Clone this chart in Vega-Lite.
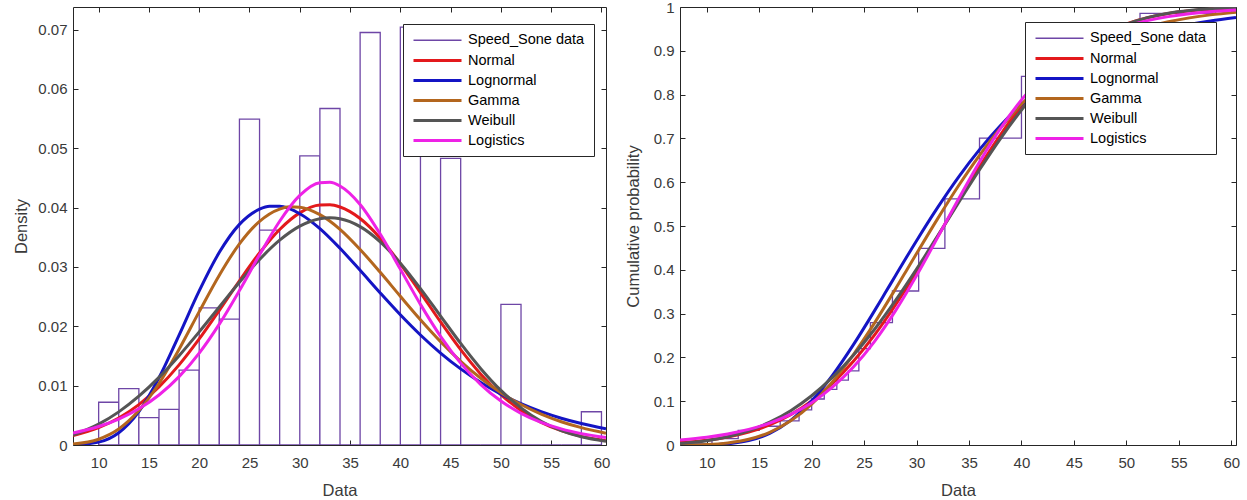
{
  "$schema": "https://vega.github.io/schema/vega-lite/v6.json",
  "padding": {"left": 13, "top": 0, "right": 2, "bottom": 0},
  "background": "white",
  "spacing": 15,
  "config": {
    "font": "Liberation Sans",
    "view": {"stroke": null},
    "axis": {
      "labelFont": "Liberation Sans", "labelFontSize": 15, "labelColor": "#3a3a3a",
      "titleFont": "Liberation Sans", "titleFontSize": 16.5, "titleFontWeight": "normal", "titleColor": "#3a3a3a",
      "domainColor": "#262626", "tickColor": "#262626", "tickSize": -5, "grid": false, "format": "~g"
    },
    "axisBottom": {"labelPadding": 15, "titlePadding": 12},
    "axisLeft": {"labelPadding": 11, "titlePadding": 8},
    "legend": {
      "orient": "none", "title": null, "labelFont": "Liberation Sans", "labelFontSize": 14.5, "labelColor": "#000000",
      "symbolType": "M-4,0H4", "symbolSize": 144, "symbolOffset": 18, "strokeColor": "#262626", "fillColor": "#ffffff",
      "padding": 9, "rowPadding": 5, "labelOffset": 23, "labelLimit": 300
    }
  },
  "resolve": {"scale": {"stroke": "independent", "strokeWidth": "independent"}},
  "datasets": {
    "hist": [
      {"b0": 10, "b1": 12, "density": 0.0072, "s": "Speed_Sone data"},
      {"b0": 12, "b1": 14, "density": 0.0095, "s": "Speed_Sone data"},
      {"b0": 14, "b1": 16, "density": 0.0046, "s": "Speed_Sone data"},
      {"b0": 16, "b1": 18, "density": 0.006, "s": "Speed_Sone data"},
      {"b0": 18, "b1": 20, "density": 0.0126, "s": "Speed_Sone data"},
      {"b0": 20, "b1": 22, "density": 0.0231, "s": "Speed_Sone data"},
      {"b0": 22, "b1": 24, "density": 0.0212, "s": "Speed_Sone data"},
      {"b0": 24, "b1": 26, "density": 0.0549, "s": "Speed_Sone data"},
      {"b0": 26, "b1": 28, "density": 0.0362, "s": "Speed_Sone data"},
      {"b0": 28, "b1": 30, "density": 0, "s": "Speed_Sone data"},
      {"b0": 30, "b1": 32, "density": 0.0487, "s": "Speed_Sone data"},
      {"b0": 32, "b1": 34, "density": 0.0567, "s": "Speed_Sone data"},
      {"b0": 34, "b1": 36, "density": 0, "s": "Speed_Sone data"},
      {"b0": 36, "b1": 38, "density": 0.0695, "s": "Speed_Sone data"},
      {"b0": 38, "b1": 40, "density": 0, "s": "Speed_Sone data"},
      {"b0": 40, "b1": 42, "density": 0.0704, "s": "Speed_Sone data"},
      {"b0": 42, "b1": 44, "density": 0, "s": "Speed_Sone data"},
      {"b0": 44, "b1": 46, "density": 0.0483, "s": "Speed_Sone data"},
      {"b0": 46, "b1": 48, "density": 0, "s": "Speed_Sone data"},
      {"b0": 48, "b1": 50, "density": 0, "s": "Speed_Sone data"},
      {"b0": 50, "b1": 52, "density": 0.0237, "s": "Speed_Sone data"},
      {"b0": 52, "b1": 54, "density": 0, "s": "Speed_Sone data"},
      {"b0": 54, "b1": 56, "density": 0, "s": "Speed_Sone data"},
      {"b0": 56, "b1": 58, "density": 0, "s": "Speed_Sone data"},
      {"b0": 58, "b1": 60, "density": 0.0056, "s": "Speed_Sone data"}
    ],
    "ecdf": [
      {"x": 7.45, "p": 0, "s": "Speed_Sone data"},
      {"x": 10.5, "p": 0.0144, "s": "Speed_Sone data"},
      {"x": 13, "p": 0.0334, "s": "Speed_Sone data"},
      {"x": 15, "p": 0.0428, "s": "Speed_Sone data"},
      {"x": 17, "p": 0.055, "s": "Speed_Sone data"},
      {"x": 18.8, "p": 0.0804, "s": "Speed_Sone data"},
      {"x": 20, "p": 0.105, "s": "Speed_Sone data"},
      {"x": 21.2, "p": 0.1268, "s": "Speed_Sone data"},
      {"x": 22.4, "p": 0.148, "s": "Speed_Sone data"},
      {"x": 23.5, "p": 0.1694, "s": "Speed_Sone data"},
      {"x": 24.5, "p": 0.22, "s": "Speed_Sone data"},
      {"x": 25.6, "p": 0.2792, "s": "Speed_Sone data"},
      {"x": 27.7, "p": 0.3516, "s": "Speed_Sone data"},
      {"x": 30.2, "p": 0.4488, "s": "Speed_Sone data"},
      {"x": 32.7, "p": 0.562, "s": "Speed_Sone data"},
      {"x": 36, "p": 0.7008, "s": "Speed_Sone data"},
      {"x": 40, "p": 0.8414, "s": "Speed_Sone data"},
      {"x": 44.5, "p": 0.938, "s": "Speed_Sone data"},
      {"x": 51.3, "p": 0.9854, "s": "Speed_Sone data"},
      {"x": 58.5, "p": 1, "s": "Speed_Sone data"},
      {"x": 60.45, "p": 1, "s": "Speed_Sone data"}
    ],
    "fit": [
      {"x": 7.45, "s": "Normal", "pdf": 0.001576, "cdf": 0.0055},
      {"x": 10, "s": "Normal", "pdf": 0.002914, "cdf": 0.0109},
      {"x": 12, "s": "Normal", "pdf": 0.004548, "cdf": 0.0183},
      {"x": 14, "s": "Normal", "pdf": 0.00681, "cdf": 0.0295},
      {"x": 16, "s": "Normal", "pdf": 0.009788, "cdf": 0.0461},
      {"x": 18, "s": "Normal", "pdf": 0.0135, "cdf": 0.0693},
      {"x": 20, "s": "Normal", "pdf": 0.017874, "cdf": 0.1006},
      {"x": 22, "s": "Normal", "pdf": 0.0227, "cdf": 0.1411},
      {"x": 24, "s": "Normal", "pdf": 0.027667, "cdf": 0.1916},
      {"x": 26, "s": "Normal", "pdf": 0.032358, "cdf": 0.2514},
      {"x": 28, "s": "Normal", "pdf": 0.036318, "cdf": 0.3203},
      {"x": 30, "s": "Normal", "pdf": 0.039115, "cdf": 0.3959},
      {"x": 32, "s": "Normal", "pdf": 0.040427, "cdf": 0.4757},
      {"x": 33, "s": "Normal", "pdf": 0.040468, "cdf": 0.5162},
      {"x": 34, "s": "Normal", "pdf": 0.040094, "cdf": 0.5565},
      {"x": 36, "s": "Normal", "pdf": 0.03816, "cdf": 0.635},
      {"x": 38, "s": "Normal", "pdf": 0.034851, "cdf": 0.7082},
      {"x": 40, "s": "Normal", "pdf": 0.030541, "cdf": 0.7738},
      {"x": 42, "s": "Normal", "pdf": 0.025687, "cdf": 0.83},
      {"x": 44, "s": "Normal", "pdf": 0.020729, "cdf": 0.8765},
      {"x": 46, "s": "Normal", "pdf": 0.016056, "cdf": 0.9131},
      {"x": 48, "s": "Normal", "pdf": 0.01193, "cdf": 0.941},
      {"x": 50, "s": "Normal", "pdf": 0.008507, "cdf": 0.9613},
      {"x": 52, "s": "Normal", "pdf": 0.005823, "cdf": 0.9755},
      {"x": 54, "s": "Normal", "pdf": 0.003824, "cdf": 0.9851},
      {"x": 56, "s": "Normal", "pdf": 0.00241, "cdf": 0.9912},
      {"x": 58, "s": "Normal", "pdf": 0.001457, "cdf": 0.995},
      {"x": 60.45, "s": "Normal", "pdf": 0.000733, "cdf": 0.9977},
      {"x": 7.45, "s": "Lognormal", "pdf": 0.000027, "cdf": 0.00002},
      {"x": 10, "s": "Lognormal", "pdf": 0.000482, "cdf": 0.00046},
      {"x": 12, "s": "Lognormal", "pdf": 0.002057, "cdf": 0.00273},
      {"x": 14, "s": "Lognormal", "pdf": 0.00561, "cdf": 0.01002},
      {"x": 16, "s": "Lognormal", "pdf": 0.011326, "cdf": 0.0266},
      {"x": 18, "s": "Lognormal", "pdf": 0.018518, "cdf": 0.0563},
      {"x": 20, "s": "Lognormal", "pdf": 0.025965, "cdf": 0.1008},
      {"x": 22, "s": "Lognormal", "pdf": 0.032463, "cdf": 0.1595},
      {"x": 24, "s": "Lognormal", "pdf": 0.03717, "cdf": 0.2296},
      {"x": 26, "s": "Lognormal", "pdf": 0.039726, "cdf": 0.3068},
      {"x": 27, "s": "Lognormal", "pdf": 0.040211, "cdf": 0.3468},
      {"x": 28, "s": "Lognormal", "pdf": 0.040214, "cdf": 0.387},
      {"x": 30, "s": "Lognormal", "pdf": 0.038974, "cdf": 0.4665},
      {"x": 32, "s": "Lognormal", "pdf": 0.036463, "cdf": 0.542},
      {"x": 34, "s": "Lognormal", "pdf": 0.033145, "cdf": 0.6118},
      {"x": 36, "s": "Lognormal", "pdf": 0.029427, "cdf": 0.6744},
      {"x": 38, "s": "Lognormal", "pdf": 0.025617, "cdf": 0.7295},
      {"x": 40, "s": "Lognormal", "pdf": 0.02194, "cdf": 0.777},
      {"x": 42, "s": "Lognormal", "pdf": 0.01854, "cdf": 0.8174},
      {"x": 44, "s": "Lognormal", "pdf": 0.01549, "cdf": 0.8514},
      {"x": 46, "s": "Lognormal", "pdf": 0.012821, "cdf": 0.8796},
      {"x": 48, "s": "Lognormal", "pdf": 0.010525, "cdf": 0.9029},
      {"x": 50, "s": "Lognormal", "pdf": 0.008585, "cdf": 0.9219},
      {"x": 52, "s": "Lognormal", "pdf": 0.006963, "cdf": 0.9374},
      {"x": 54, "s": "Lognormal", "pdf": 0.005619, "cdf": 0.95},
      {"x": 56, "s": "Lognormal", "pdf": 0.004517, "cdf": 0.9601},
      {"x": 58, "s": "Lognormal", "pdf": 0.003623, "cdf": 0.9682},
      {"x": 60.45, "s": "Lognormal", "pdf": 0.002738, "cdf": 0.9761},
      {"x": 7.45, "s": "Gamma", "pdf": 0.00016, "cdf": 0.00015},
      {"x": 10, "s": "Gamma", "pdf": 0.000974, "cdf": 0.00135},
      {"x": 12, "s": "Gamma", "pdf": 0.00269, "cdf": 0.0048},
      {"x": 14, "s": "Gamma", "pdf": 0.005795, "cdf": 0.0131},
      {"x": 16, "s": "Gamma", "pdf": 0.010367, "cdf": 0.029},
      {"x": 18, "s": "Gamma", "pdf": 0.016135, "cdf": 0.0552},
      {"x": 20, "s": "Gamma", "pdf": 0.022468, "cdf": 0.0935},
      {"x": 22, "s": "Gamma", "pdf": 0.02862, "cdf": 0.1445},
      {"x": 24, "s": "Gamma", "pdf": 0.033897, "cdf": 0.2072},
      {"x": 26, "s": "Gamma", "pdf": 0.037686, "cdf": 0.2789},
      {"x": 28, "s": "Gamma", "pdf": 0.039757, "cdf": 0.3568},
      {"x": 29, "s": "Gamma", "pdf": 0.040128, "cdf": 0.3968},
      {"x": 30, "s": "Gamma", "pdf": 0.040076, "cdf": 0.437},
      {"x": 32, "s": "Gamma", "pdf": 0.03881, "cdf": 0.5163},
      {"x": 34, "s": "Gamma", "pdf": 0.036343, "cdf": 0.5918},
      {"x": 36, "s": "Gamma", "pdf": 0.032951, "cdf": 0.6614},
      {"x": 38, "s": "Gamma", "pdf": 0.02909, "cdf": 0.7236},
      {"x": 40, "s": "Gamma", "pdf": 0.025058, "cdf": 0.7778},
      {"x": 42, "s": "Gamma", "pdf": 0.021101, "cdf": 0.8239},
      {"x": 44, "s": "Gamma", "pdf": 0.017414, "cdf": 0.8622},
      {"x": 46, "s": "Gamma", "pdf": 0.014104, "cdf": 0.8937},
      {"x": 48, "s": "Gamma", "pdf": 0.011239, "cdf": 0.9188},
      {"x": 50, "s": "Gamma", "pdf": 0.008815, "cdf": 0.9388},
      {"x": 52, "s": "Gamma", "pdf": 0.006816, "cdf": 0.9543},
      {"x": 54, "s": "Gamma", "pdf": 0.005204, "cdf": 0.9662},
      {"x": 56, "s": "Gamma", "pdf": 0.003925, "cdf": 0.9752},
      {"x": 58, "s": "Gamma", "pdf": 0.002923, "cdf": 0.982},
      {"x": 60.45, "s": "Gamma", "pdf": 0.001995, "cdf": 0.988},
      {"x": 7.45, "s": "Weibull", "pdf": 0.00167, "cdf": 0.0035},
      {"x": 10, "s": "Weibull", "pdf": 0.003507, "cdf": 0.0098},
      {"x": 12, "s": "Weibull", "pdf": 0.005582, "cdf": 0.0188},
      {"x": 14, "s": "Weibull", "pdf": 0.008219, "cdf": 0.0325},
      {"x": 16, "s": "Weibull", "pdf": 0.011397, "cdf": 0.052},
      {"x": 18, "s": "Weibull", "pdf": 0.015052, "cdf": 0.0784},
      {"x": 20, "s": "Weibull", "pdf": 0.019056, "cdf": 0.1124},
      {"x": 22, "s": "Weibull", "pdf": 0.023256, "cdf": 0.1548},
      {"x": 24, "s": "Weibull", "pdf": 0.027414, "cdf": 0.2055},
      {"x": 26, "s": "Weibull", "pdf": 0.031257, "cdf": 0.2642},
      {"x": 28, "s": "Weibull", "pdf": 0.034506, "cdf": 0.3301},
      {"x": 30, "s": "Weibull", "pdf": 0.036876, "cdf": 0.4016},
      {"x": 32, "s": "Weibull", "pdf": 0.03813, "cdf": 0.4768},
      {"x": 33, "s": "Weibull", "pdf": 0.038288, "cdf": 0.5151},
      {"x": 34, "s": "Weibull", "pdf": 0.038116, "cdf": 0.5534},
      {"x": 36, "s": "Weibull", "pdf": 0.036788, "cdf": 0.6284},
      {"x": 38, "s": "Weibull", "pdf": 0.034225, "cdf": 0.6997},
      {"x": 40, "s": "Weibull", "pdf": 0.03064, "cdf": 0.7647},
      {"x": 42, "s": "Weibull", "pdf": 0.026355, "cdf": 0.8217},
      {"x": 44, "s": "Weibull", "pdf": 0.021716, "cdf": 0.8698},
      {"x": 46, "s": "Weibull", "pdf": 0.017113, "cdf": 0.9086},
      {"x": 48, "s": "Weibull", "pdf": 0.012864, "cdf": 0.9385},
      {"x": 50, "s": "Weibull", "pdf": 0.009198, "cdf": 0.9605},
      {"x": 52, "s": "Weibull", "pdf": 0.006246, "cdf": 0.9757},
      {"x": 54, "s": "Weibull", "pdf": 0.004007, "cdf": 0.9859},
      {"x": 56, "s": "Weibull", "pdf": 0.002423, "cdf": 0.9922},
      {"x": 58, "s": "Weibull", "pdf": 0.001382, "cdf": 0.996},
      {"x": 60.45, "s": "Weibull", "pdf": 0.000625, "cdf": 0.9984},
      {"x": 7.45, "s": "Logistics", "pdf": 0.002022, "cdf": 0.0115},
      {"x": 10, "s": "Logistics", "pdf": 0.003111, "cdf": 0.0179},
      {"x": 12, "s": "Logistics", "pdf": 0.004367, "cdf": 0.0253},
      {"x": 14, "s": "Logistics", "pdf": 0.006095, "cdf": 0.0356},
      {"x": 16, "s": "Logistics", "pdf": 0.00843, "cdf": 0.0501},
      {"x": 18, "s": "Logistics", "pdf": 0.011522, "cdf": 0.0699},
      {"x": 20, "s": "Logistics", "pdf": 0.015493, "cdf": 0.0967},
      {"x": 22, "s": "Logistics", "pdf": 0.020373, "cdf": 0.1325},
      {"x": 24, "s": "Logistics", "pdf": 0.026027, "cdf": 0.1787},
      {"x": 26, "s": "Logistics", "pdf": 0.032045, "cdf": 0.2368},
      {"x": 28, "s": "Logistics", "pdf": 0.037701, "cdf": 0.3067},
      {"x": 30, "s": "Logistics", "pdf": 0.042052, "cdf": 0.3867},
      {"x": 32, "s": "Logistics", "pdf": 0.044201, "cdf": 0.4734},
      {"x": 33, "s": "Logistics", "pdf": 0.04427, "cdf": 0.5177},
      {"x": 34, "s": "Logistics", "pdf": 0.04365, "cdf": 0.5617},
      {"x": 36, "s": "Logistics", "pdf": 0.040532, "cdf": 0.6463},
      {"x": 38, "s": "Logistics", "pdf": 0.035541, "cdf": 0.7226},
      {"x": 40, "s": "Logistics", "pdf": 0.029634, "cdf": 0.7879},
      {"x": 42, "s": "Logistics", "pdf": 0.023696, "cdf": 0.8411},
      {"x": 44, "s": "Logistics", "pdf": 0.018315, "cdf": 0.883},
      {"x": 46, "s": "Logistics", "pdf": 0.013794, "cdf": 0.915},
      {"x": 48, "s": "Logistics", "pdf": 0.010186, "cdf": 0.9388},
      {"x": 50, "s": "Logistics", "pdf": 0.007413, "cdf": 0.9563},
      {"x": 52, "s": "Logistics", "pdf": 0.005338, "cdf": 0.9689},
      {"x": 54, "s": "Logistics", "pdf": 0.003815, "cdf": 0.978},
      {"x": 56, "s": "Logistics", "pdf": 0.002711, "cdf": 0.9845},
      {"x": 58, "s": "Logistics", "pdf": 0.00192, "cdf": 0.9891},
      {"x": 60.45, "s": "Logistics", "pdf": 0.001243, "cdf": 0.9929}
    ]
  },
  "hconcat": [
    {
      "width": 533,
      "height": 438,
      "resolve": {"axis": {"x": "independent", "y": "independent"}},
      "layer": [
        {
          "data": {"name": "hist"},
          "mark": {"type": "rect", "fill": "white", "clip": true},
          "encoding": {
            "x": {"field": "b0", "type": "quantitative", "scale": {"domain": [7.45, 60.45], "nice": false, "zero": false},
                  "axis": {"orient": "bottom", "values": [10, 15, 20, 25, 30, 35, 40, 45, 50, 55, 60], "title": "Data"}},
            "x2": {"field": "b1"},
            "y": {"field": "density", "type": "quantitative", "scale": {"domain": [0, 0.0738], "nice": false},
                  "axis": {"orient": "left", "values": [0, 0.01, 0.02, 0.03, 0.04, 0.05, 0.06, 0.07], "title": "Density"}},
            "y2": {"datum": 0},
            "stroke": {"field": "s", "type": "nominal",
                       "scale": {"domain": ["Speed_Sone data", "Normal", "Lognormal", "Gamma", "Weibull", "Logistics"],
                                 "range": ["#6E46A6", "#E3191C", "#1414C4", "#B3661E", "#555555", "#EE22E6"]},
                       "legend": {"legendX": 330, "legendY": 17}},
            "strokeWidth": {"field": "s", "type": "nominal",
                            "scale": {"type": "ordinal", "domain": ["Speed_Sone data", "Normal", "Lognormal", "Gamma", "Weibull", "Logistics"],
                                      "range": [1.3, 3, 3, 3, 3, 3]},
                            "legend": {"legendX": 330, "legendY": 17}}
          }
        },
        {
          "data": {"name": "fit"},
          "mark": {"type": "line", "interpolate": "monotone", "clip": true},
          "encoding": {
            "x": {"field": "x", "type": "quantitative", "scale": {"domain": [7.45, 60.45], "nice": false, "zero": false},
                  "axis": {"orient": "top", "labels": false, "title": null, "values": [10, 15, 20, 25, 30, 35, 40, 45, 50, 55, 60]}},
            "y": {"field": "pdf", "type": "quantitative", "scale": {"domain": [0, 0.0738], "nice": false},
                  "axis": {"orient": "right", "labels": false, "title": null, "values": [0, 0.01, 0.02, 0.03, 0.04, 0.05, 0.06, 0.07]}},
            "stroke": {"field": "s", "type": "nominal",
                       "scale": {"domain": ["Speed_Sone data", "Normal", "Lognormal", "Gamma", "Weibull", "Logistics"],
                                 "range": ["#6E46A6", "#E3191C", "#1414C4", "#B3661E", "#555555", "#EE22E6"]},
                       "legend": {"legendX": 330, "legendY": 17}},
            "strokeWidth": {"field": "s", "type": "nominal",
                            "scale": {"type": "ordinal", "domain": ["Speed_Sone data", "Normal", "Lognormal", "Gamma", "Weibull", "Logistics"],
                                      "range": [1.3, 3, 3, 3, 3, 3]},
                            "legend": {"legendX": 330, "legendY": 17}}
          }
        }
      ]
    },
    {
      "width": 556,
      "height": 438,
      "resolve": {"axis": {"x": "independent", "y": "independent"}},
      "layer": [
        {
          "data": {"name": "ecdf"},
          "mark": {"type": "line", "interpolate": "step-after", "clip": true},
          "encoding": {
            "x": {"field": "x", "type": "quantitative", "scale": {"domain": [7.45, 60.45], "nice": false, "zero": false},
                  "axis": {"orient": "bottom", "values": [10, 15, 20, 25, 30, 35, 40, 45, 50, 55, 60], "title": "Data"}},
            "y": {"field": "p", "type": "quantitative", "scale": {"domain": [0, 1], "nice": false},
                  "axis": {"orient": "left", "values": [0, 0.1, 0.2, 0.3, 0.4, 0.5, 0.6, 0.7, 0.8, 0.9, 1], "title": "Cumulative probability", "titlePadding": 12}},
            "stroke": {"field": "s", "type": "nominal",
                       "scale": {"domain": ["Speed_Sone data", "Normal", "Lognormal", "Gamma", "Weibull", "Logistics"],
                                 "range": ["#6E46A6", "#E3191C", "#1414C4", "#B3661E", "#555555", "#EE22E6"]},
                       "legend": {"legendX": 345, "legendY": 15}},
            "strokeWidth": {"field": "s", "type": "nominal",
                            "scale": {"type": "ordinal", "domain": ["Speed_Sone data", "Normal", "Lognormal", "Gamma", "Weibull", "Logistics"],
                                      "range": [1.3, 3, 3, 3, 3, 3]},
                            "legend": {"legendX": 345, "legendY": 15}}
          }
        },
        {
          "data": {"name": "fit"},
          "mark": {"type": "line", "interpolate": "monotone", "clip": true},
          "encoding": {
            "x": {"field": "x", "type": "quantitative", "scale": {"domain": [7.45, 60.45], "nice": false, "zero": false},
                  "axis": {"orient": "top", "labels": false, "title": null, "values": [10, 15, 20, 25, 30, 35, 40, 45, 50, 55, 60]}},
            "y": {"field": "cdf", "type": "quantitative", "scale": {"domain": [0, 1], "nice": false},
                  "axis": {"orient": "right", "labels": false, "title": null, "values": [0, 0.1, 0.2, 0.3, 0.4, 0.5, 0.6, 0.7, 0.8, 0.9, 1]}},
            "stroke": {"field": "s", "type": "nominal",
                       "scale": {"domain": ["Speed_Sone data", "Normal", "Lognormal", "Gamma", "Weibull", "Logistics"],
                                 "range": ["#6E46A6", "#E3191C", "#1414C4", "#B3661E", "#555555", "#EE22E6"]},
                       "legend": {"legendX": 345, "legendY": 15}},
            "strokeWidth": {"field": "s", "type": "nominal",
                            "scale": {"type": "ordinal", "domain": ["Speed_Sone data", "Normal", "Lognormal", "Gamma", "Weibull", "Logistics"],
                                      "range": [1.3, 3, 3, 3, 3, 3]},
                            "legend": {"legendX": 345, "legendY": 15}}
          }
        }
      ]
    }
  ]
}
